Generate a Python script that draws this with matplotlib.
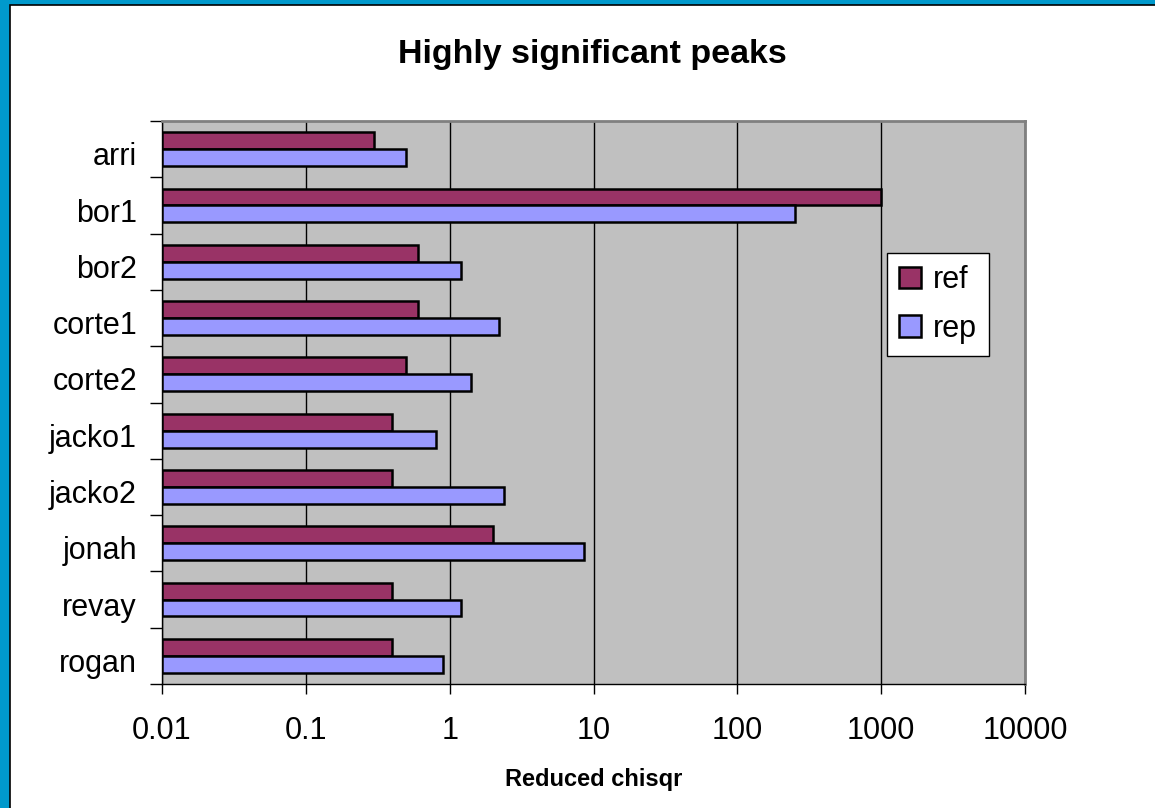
import matplotlib
matplotlib.use("Agg")
import matplotlib.pyplot as plt
import numpy as np
from matplotlib.patches import Rectangle
from matplotlib.transforms import ScaledTranslation
from matplotlib.ticker import FixedLocator, NullFormatter, FixedFormatter

plt.rcParams['font.family'] = ['Liberation Sans', 'DejaVu Sans']

categories = ["arri", "bor1", "bor2", "corte1", "corte2",
              "jacko1", "jacko2", "jonah", "revay", "rogan"]
ref_values = [0.3, 1000, 0.6, 0.6, 0.5, 0.4, 0.4, 2.0, 0.4, 0.4]
rep_values = [0.5, 250, 1.2, 2.2, 1.4, 0.8, 2.4, 8.6, 1.2, 0.9]
x_ticks = [0.01, 0.1, 1, 10, 100, 1000, 10000]
x_tick_labels = ["0.01", "0.1", "1", "10", "100", "1000", "10000"]

REF_COLOR = "#993366"
REP_COLOR = "#9999FF"
BASE = 0.01

W, H = 1155, 808
fig = plt.figure(figsize=(W / 100, H / 100), dpi=100)

# outer frame: blue band on the left and top, white chart area with a dark rule
fig.patches.append(Rectangle((0, 0), 1, 1, transform=fig.transFigure,
                             facecolor="#0099CC", edgecolor="none", zorder=-10))
fig.patches.append(Rectangle((10 / W, -0.01), 1.1, 1 - 5 / H + 0.01,
                             transform=fig.transFigure, facecolor="white",
                             edgecolor="black", linewidth=1.2, zorder=-9))

ax = fig.add_axes([162 / W, 1 - 684 / H, (1025 - 162) / W, (684 - 121) / H])
ax.set_facecolor("#C0C0C0")
ax.set_xscale("log")
ax.set_xlim(x_ticks[0], x_ticks[-1])

pos = np.arange(len(categories))
h = 0.3
ax.barh(pos - h / 2, np.array(ref_values) - BASE, left=BASE, height=h,
        color=REF_COLOR, edgecolor="black", linewidth=1.8, label="ref", zorder=3)
ax.barh(pos + h / 2, np.array(rep_values) - BASE, left=BASE, height=h,
        color=REP_COLOR, edgecolor="black", linewidth=1.8, label="rep", zorder=3)
ax.set_ylim(len(categories) - 0.5, -0.5)

# x axis: decades with vertical gridlines
ax.xaxis.set_major_locator(FixedLocator(x_ticks))
ax.xaxis.set_major_formatter(FixedFormatter(x_tick_labels))
ax.xaxis.set_minor_locator(FixedLocator([]))
ax.xaxis.set_minor_formatter(NullFormatter())
ax.tick_params(axis="x", which="major", direction="out", length=7, width=1,
               color="black", pad=16, labelsize=22)
ax.grid(axis="x", which="major", color="black", linewidth=1, zorder=1)
ax.set_axisbelow(True)

# y axis: labels centred on categories, tick marks between them
ax.set_yticks(pos)
ax.set_yticklabels(categories)
ax.set_yticks(np.arange(len(categories) + 1) - 0.5, minor=True)
ax.tick_params(axis="y", which="major", length=0, pad=18, labelsize=22)
ax.tick_params(axis="y", which="minor", direction="out", length=9, width=1,
               color="black")
shift = ScaledTranslation(0, -3.3 / 72, fig.dpi_scale_trans)
for lbl in ax.get_yticklabels():
    lbl.set_transform(lbl.get_transform() + shift)

for side in ("top", "right"):
    ax.spines[side].set_color("#808080")
    ax.spines[side].set_linewidth(2)
for side in ("left", "bottom"):
    ax.spines[side].set_color("black")
    ax.spines[side].set_linewidth(1)

fig.text(592 / W, 1 - 63 / H, "Highly significant peaks", ha="center",
         va="baseline", fontsize=24.5, fontweight="bold")
fig.text(594 / W, 1 - 786 / H, "Reduced chisqr", ha="center",
         va="baseline", fontsize=17, fontweight="bold")

leg = ax.legend(loc="upper left", bbox_to_anchor=(887 / W, 1 - 253 / H),
                bbox_transform=fig.transFigure, fontsize=22, frameon=True,
                fancybox=False, framealpha=1, edgecolor="black",
                handlelength=0.7, handleheight=0.7, handletextpad=0.4,
                labelspacing=0.6, borderpad=0.4, borderaxespad=0)
leg.get_frame().set_linewidth(1)

fig.savefig("out.png", dpi=100)
